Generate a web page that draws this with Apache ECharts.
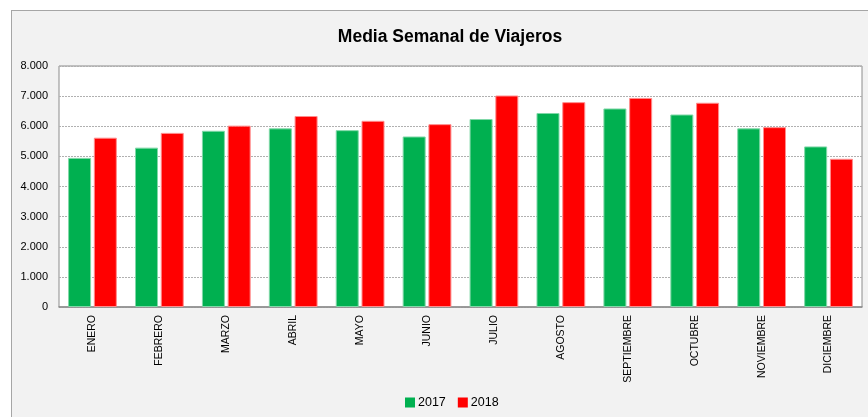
<!DOCTYPE html>
<html>
<head>
<meta charset="utf-8">
<script src="https://cdn.jsdelivr.net/npm/echarts@6/dist/echarts.min.js"></script>
<style>
  body { margin: 0; background: #fff; overflow: hidden; }
  #panel { position: absolute; left: 11px; top: 10px; width: 900px; height: 450px;
           background: #f2f2f2; border: 1px solid #a6a6a6; }
  #chart { position: absolute; left: 0; top: 0; width: 868px; height: 417px; }
</style>
</head>
<body>
<div id="panel"></div>
<div id="chart"></div>
<script>
// meses
var months = ["ENERO", "FEBRERO", "MARZO", "ABRIL", "MAYO", "JUNIO", "JULIO",
  "AGOSTO", "SEPTIEMBRE", "OCTUBRE", "NOVIEMBRE", "DICIEMBRE"];
// media semanal de viajeros por año
var viajeros2017 = [4950, 5290, 5850, 5930, 5870, 5660, 6240, 6440, 6590, 6390, 5930, 5330];
var viajeros2018 = [5620, 5780, 6020, 6340, 6180, 6070, 7020, 6800, 6940, 6780, 5970, 4920];

function miles(v) {
  return String(v).replace(/\B(?=(\d{3})+(?!\d))/g, ".");
}

var chart = echarts.init(document.getElementById("chart"));
var option = {
  backgroundColor: "transparent",
  animation: false,
  textStyle: { fontFamily: "Liberation Sans" },
  title: {
    text: "Media Semanal de Viajeros",
    left: 445,
    textAlign: "center",
    top: 23,
    textStyle: { fontSize: 17.5, fontWeight: "bold", color: "#000" }
  },
  legend: {
    left: 400,
    top: 391,
    itemWidth: 10,
    itemHeight: 10,
    itemGap: 12,
    icon: "rect",
    itemStyle: { borderWidth: 0 },
    textStyle: { fontSize: 12.5, color: "#000", padding: [0, 0, 0, -2] },
    data: ["2017", "2018"]
  },
  grid: {
    left: 59, right: 6, top: 66, bottom: 110,
    show: true,
    backgroundColor: "#fff",
    borderColor: "#8c8c8c",
    borderWidth: 1
  },
  xAxis: {
    type: "category",
    data: months,
    axisTick: { show: false },
    axisLine: { lineStyle: { color: "#8c8c8c", width: 1.5 } },
    axisLabel: { rotate: 90, fontSize: 10.5, color: "#000", margin: 8, interval: 0 }
  },
  yAxis: {
    type: "value",
    min: 0,
    max: 8000,
    interval: 1000,
    axisLine: { show: false },
    axisTick: { show: false },
    axisLabel: { fontSize: 11, color: "#000", margin: 11, formatter: miles },
    splitLine: { lineStyle: { color: "#b0b0b0", type: [2, 1], width: 1 } }
  },
  series: [
    {
      name: "2017",
      type: "bar",
      data: viajeros2017,
      barWidth: 23,
      barGap: "12%",
      itemStyle: { color: "#00b050", borderColor: "#80d8a8", borderWidth: 1 }
    },
    {
      name: "2018",
      type: "bar",
      data: viajeros2018,
      barWidth: 23,
      itemStyle: { color: "#ff0000", borderColor: "#ff8c8c", borderWidth: 1 }
    }
  ]
};
chart.setOption(option);
</script>
</body>
</html>
